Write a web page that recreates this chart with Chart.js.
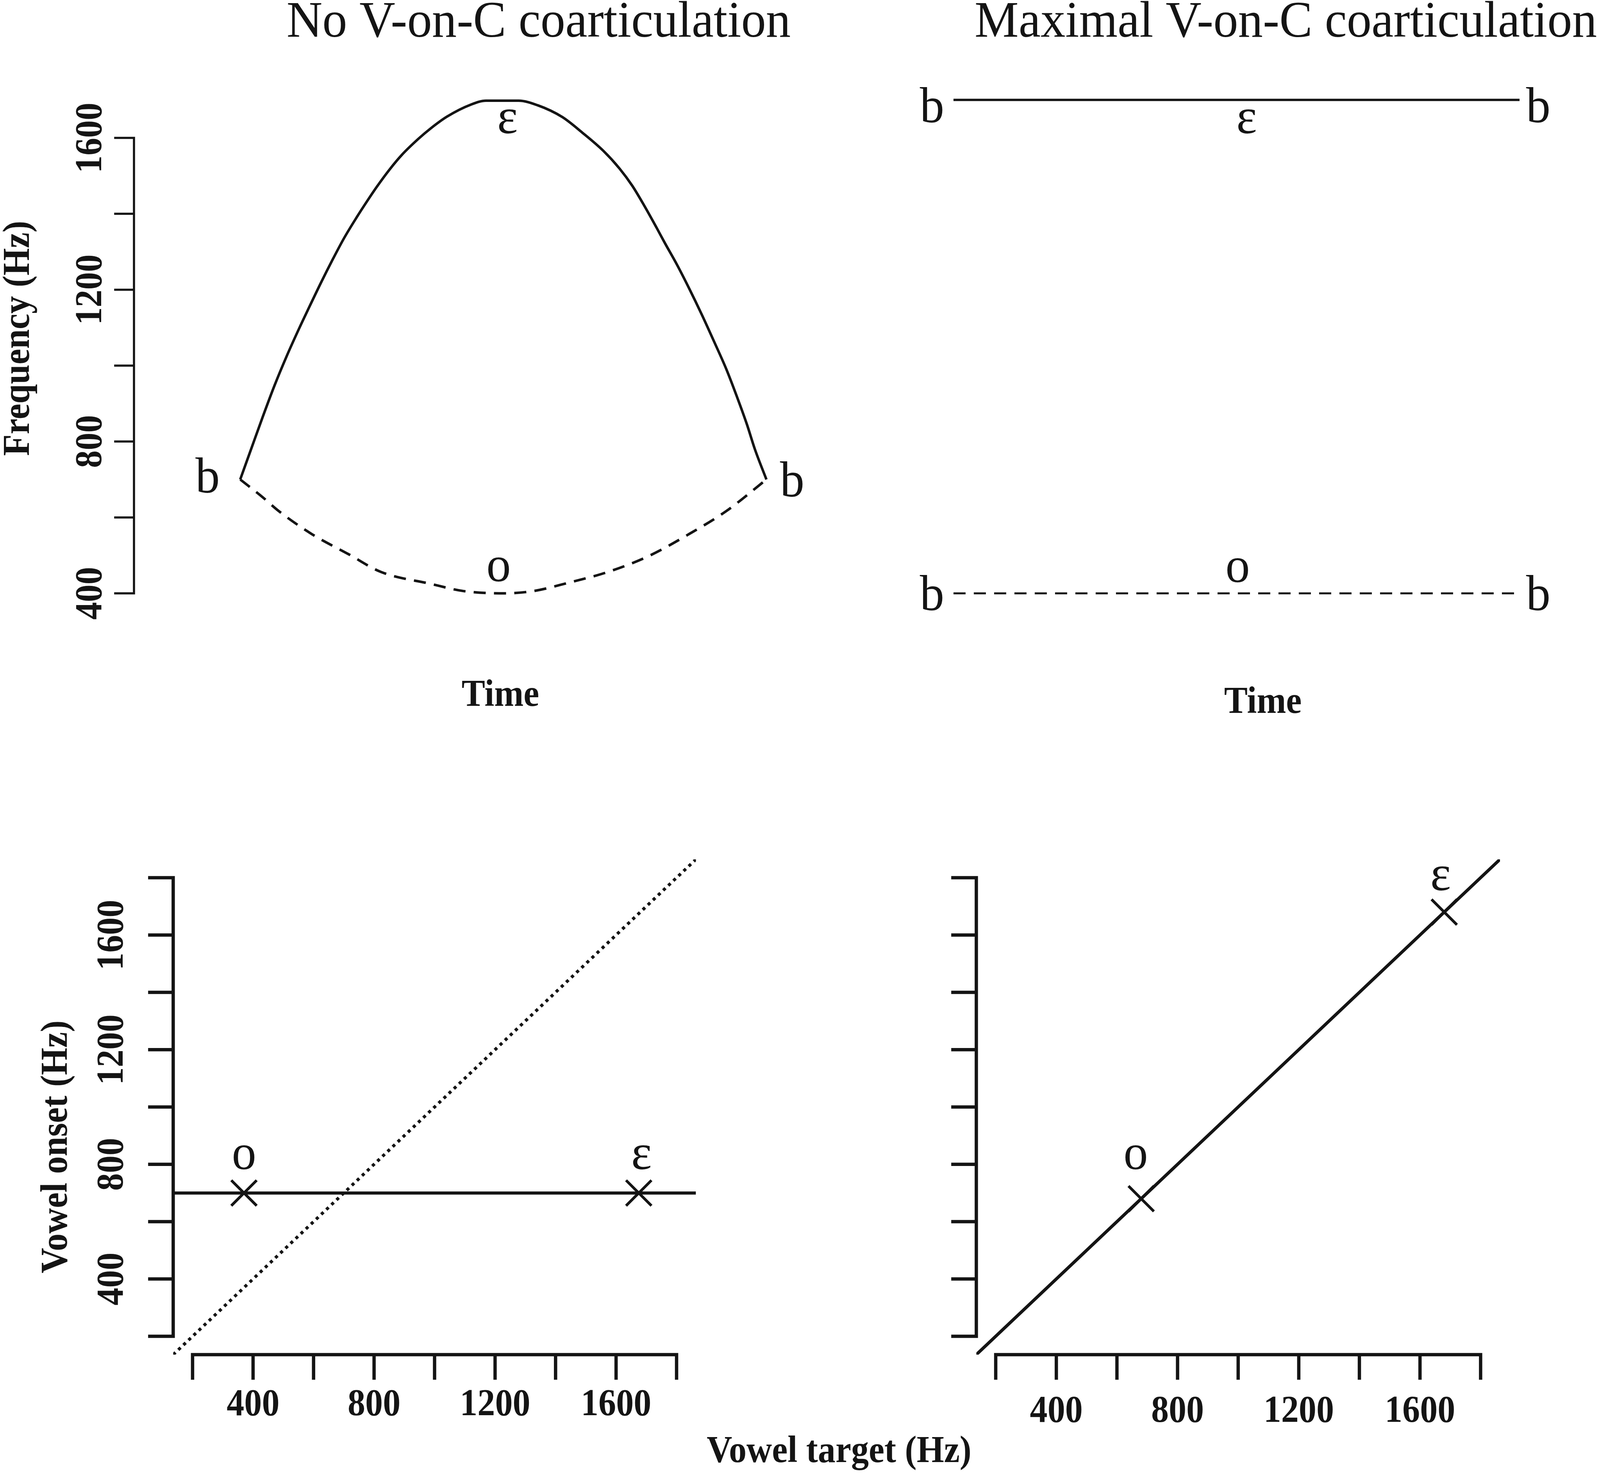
<!DOCTYPE html>
<html>
<head>
<meta charset="utf-8">
<script src="https://cdn.jsdelivr.net/npm/chart.js@4.4.1/dist/chart.umd.min.js"></script>
<style>
html,body{margin:0;padding:0;background:#fff;}
#page{position:relative;width:4098px;height:3771px;background:#fff;overflow:hidden;}
canvas{position:absolute;}
</style>
</head>
<body>
<div id="page">
<canvas id="tl" width="2250" height="1900" style="left:0px;top:0px"></canvas>
<canvas id="tr" width="1848" height="1900" style="left:2250px;top:0px"></canvas>
<canvas id="bl" width="2500" height="1871" style="left:0px;top:1900px"></canvas>
<canvas id="br" width="1748" height="1871" style="left:2350px;top:1900px"></canvas>
</div>
<script>
// ---------------- DATA ----------------
// Top-left: formant trajectories with no V-on-C coarticulation (time in % of syllable)
const timeSolid = [0, 2.2, 4.2, 6.5, 8.8, 11.2, 12.8, 15.4, 17.4, 19.7, 22.1, 24.1, 26.0, 28.4, 30.7, 33.9, 36.2, 39.3, 43.9, 46.7, 52.9, 56.5, 61.2, 65.0, 69.0, 72.1, 74.5, 76.8, 79.1, 80.7, 83.0, 85.4, 87.7, 90.1, 92.4, 94.4, 96.3, 97.8, 100];
const freqSolid = [700, 785, 862, 947, 1024, 1098, 1145, 1220, 1275, 1335, 1390, 1433, 1472, 1517, 1555, 1598, 1625, 1656, 1688, 1698, 1698, 1686, 1655, 1614, 1566, 1519, 1474, 1421, 1364, 1323, 1266, 1201, 1135, 1062, 990, 918, 845, 780, 700];
const timeDashed = [0, 4.2, 7.3, 13.5, 20.6, 26.8, 36.2, 42.4, 50.3, 55.7, 62.7, 69.8, 77.6, 85.4, 92.4, 100];
const freqDashed = [700, 654, 617, 557, 503, 456, 425, 406, 400, 406, 429, 456, 498, 557, 617, 700];

// Top-right: maximal coarticulation (flat trajectories)
const timeFlat = [0, 100];
const freqFlatHigh = [1700, 1700];
const freqFlatLow = [400, 400];

// Bottom-left: locus equation, no coarticulation
const targetNo = [370, 1675];
const onsetNo = [700, 700];
const locusNoX = [136, 1864];
const locusNoY = [700, 700];
const identityX = [136, 1864];
const identityY = [136, 1864];

// Bottom-right: locus equation, maximal coarticulation
const targetMax = [680, 1680];
const onsetMax = [680, 1680];
const locusMaxX = [136, 1864];
const locusMaxY = [136, 1864];

// Ticks
const freqTicks = [400, 600, 800, 1000, 1200, 1400, 1600];
const freqTickLabels = [400, 800, 1200, 1600];
const hzTicks = [200, 400, 600, 800, 1000, 1200, 1400, 1600, 1800];
const hzTickLabels = [400, 800, 1200, 1600];

// Segment labels (anchored in data units, baseline position)
const tlLabelText = ['b', 'b', 'ɛ', 'o'];
const tlLabelX = [-6.2, 104.9, 50.8, 49.1];
const tlLabelY = [665, 655, 1612, 432];
const trLabelText = ['b', 'b', 'ɛ', 'b', 'b', 'o'];
const trLabelX = [-3.8, 103.3, 51.8, -3.8, 103.3, 50.2];
const trLabelY = [1641, 1641, 1612, 356, 356, 430];
const blLabelText = ['o', 'ɛ'];
const blLabelX = [370, 1684];
const blLabelY = [783, 783];
const brLabelText = ['o', 'ɛ'];
const brLabelX = [662, 1668];
const brLabelY = [783, 1756];

// ---------------- STYLE ----------------
const INK = '#141414';
const SERIF = '"Liberation Serif", "Times New Roman", "DejaVu Serif", serif';
const F_TITLE = 'normal 132px ' + SERIF;
const F_SEG = 'normal 130px ' + SERIF;
const F_BOLD = 'bold 98px ' + SERIF;
const SX_TITLE = 0.96, SX_SEG = 0.96, SX_BOLD = 0.92;

function pts(xs, ys) { return xs.map((x, i) => ({x: x, y: ys[i]})); }

function drawText(ctx, s, x, y, font, sx, rot, align) {
  ctx.save();
  ctx.translate(x, y);
  if (rot) ctx.rotate(rot);
  ctx.scale(sx || 1, 1);
  ctx.font = font;
  ctx.fillStyle = INK;
  ctx.textAlign = align || 'center';
  ctx.textBaseline = 'alphabetic';
  ctx.fillText(s, 0, 0);
  ctx.restore();
}

function makePlugin(cfg) {
  return {
    id: 'rstyle_' + cfg.name,
    afterDraw(chart) {
      const ctx = chart.ctx;
      const ca = chart.chartArea;
      (cfg.axes || []).forEach(a => {
        const sc = chart.scales[a.axis];
        ctx.save();
        ctx.strokeStyle = INK;
        ctx.lineWidth = a.lw;
        ctx.lineCap = 'square';
        ctx.beginPath();
        const p0 = sc.getPixelForValue(a.ticks[0]);
        const p1 = sc.getPixelForValue(a.ticks[a.ticks.length - 1]);
        if (a.axis === 'y') {
          const x = ca.left;
          ctx.moveTo(x, p0); ctx.lineTo(x, p1);
          a.ticks.forEach(v => { const p = sc.getPixelForValue(v); ctx.moveTo(x, p); ctx.lineTo(x - a.len, p); });
        } else {
          const y = ca.bottom;
          ctx.moveTo(p0, y); ctx.lineTo(p1, y);
          a.ticks.forEach(v => { const p = sc.getPixelForValue(v); ctx.moveTo(p, y); ctx.lineTo(p, y + a.len); });
        }
        ctx.stroke();
        ctx.restore();
        (a.labels || []).forEach(v => {
          const p = sc.getPixelForValue(v);
          if (a.axis === 'y') drawText(ctx, String(v), a.labelPos, p, F_BOLD, SX_BOLD, -Math.PI / 2);
          else drawText(ctx, String(v), p, a.labelPos, F_BOLD, SX_BOLD, 0);
        });
      });
      (cfg.dataTexts || []).forEach(t => {
        const xs = chart.scales.x, ys = chart.scales.y;
        t.text.forEach((s, i) => {
          drawText(ctx, s, xs.getPixelForValue(t.x[i]), ys.getPixelForValue(t.y[i]), F_SEG, SX_SEG, 0);
        });
      });
      (cfg.freeTexts || []).forEach(t => {
        drawText(ctx, t.s, t.x - cfg.ox, t.y - cfg.oy, t.font, t.sx, t.rot || 0, t.align || 'center');
      });
    }
  };
}

function makeChart(id, cfg, datasets, xr, yr, area, canvasW, canvasH) {
  const ctx = document.getElementById(id).getContext('2d');
  return new Chart(ctx, {
    type: 'scatter',
    data: { datasets: datasets },
    options: {
      responsive: false,
      animation: false,
      devicePixelRatio: 1,
      events: [],
      layout: { padding: {
        left: area.left - cfg.ox,
        top: area.top - cfg.oy,
        right: canvasW - (area.right - cfg.ox),
        bottom: canvasH - (area.bottom - cfg.oy)
      } },
      scales: {
        x: { type: 'linear', display: false, min: xr[0], max: xr[1] },
        y: { type: 'linear', display: false, min: yr[0], max: yr[1] }
      },
      plugins: { legend: { display: false }, tooltip: { enabled: false }, title: { display: false } }
    },
    plugins: [makePlugin(cfg)]
  });
}

function lineDS(xs, ys, width, dash, smooth) {
  return {
    data: pts(xs, ys), showLine: true, borderColor: INK, borderWidth: width,
    borderDash: dash || [], pointRadius: 0, fill: false,
    cubicInterpolationMode: smooth ? 'monotone' : 'default', tension: 0
  };
}
function markerDS(xs, ys) {
  return {
    data: pts(xs, ys), showLine: false, pointStyle: 'crossRot', pointRadius: 46,
    pointBorderWidth: 7, borderColor: INK, pointBorderColor: INK, backgroundColor: 'rgba(0,0,0,0)'
  };
}

// ---------------- TOP-LEFT ----------------
makeChart('tl', {
  name: 'tl', ox: 0, oy: 0,
  axes: [{ axis: 'y', ticks: freqTicks, labels: freqTickLabels, len: 48, lw: 5.5, labelPos: 259 }],
  dataTexts: [{ text: tlLabelText, x: tlLabelX, y: tlLabelY }],
  freeTexts: [
    { s: 'No V-on-C coarticulation', x: 1379, y: 94, font: F_TITLE, sx: SX_TITLE },
    { s: 'Frequency (Hz)', x: 74, y: 866, font: F_BOLD, sx: SX_BOLD, rot: -Math.PI / 2 },
    { s: 'Time', x: 1281, y: 1807, font: F_BOLD, sx: SX_BOLD }
  ]
}, [
  lineDS(timeSolid, freqSolid, 6.5, [], true),
  lineDS(timeDashed, freqDashed, 6.5, [31, 21], true)
], [-20.19, 120.19], [348, 1752], { left: 343, right: 2234, top: 205.3, bottom: 1569.5 }, 2250, 1900);

// ---------------- TOP-RIGHT ----------------
makeChart('tr', {
  name: 'tr', ox: 2250, oy: 0,
  axes: [],
  dataTexts: [{ text: trLabelText, x: trLabelX, y: trLabelY }],
  freeTexts: [
    { s: 'Maximal V-on-C coarticulation', x: 2495, y: 94, font: F_TITLE, sx: SX_TITLE, align: 'left' },
    { s: 'Time', x: 3233, y: 1825, font: F_BOLD, sx: SX_BOLD }
  ]
}, [
  lineDS(timeFlat, freqFlatHigh, 6, []),
  lineDS(timeFlat, freqFlatLow, 5, [31, 21])
], [-10.0, 113.8], [348, 1752], { left: 2296, right: 4090, top: 205.3, bottom: 1569.5 }, 1848, 1900);

// ---------------- BOTTOM-LEFT ----------------
makeChart('bl', {
  name: 'bl', ox: 0, oy: 1900,
  axes: [
    { axis: 'y', ticks: hzTicks, labels: hzTickLabels, len: 60, lw: 8.5, labelPos: 314 },
    { axis: 'x', ticks: hzTicks, labels: hzTickLabels, len: 60, lw: 8.5, labelPos: 3623 - 1900 }
  ],
  dataTexts: [{ text: blLabelText, x: blLabelX, y: blLabelY }],
  freeTexts: [
    { s: 'Vowel onset (Hz)', x: 171, y: 2936, font: F_BOLD, sx: SX_BOLD, rot: -Math.PI / 2 },
    { s: 'Vowel target (Hz)', x: 2148, y: 3743, font: F_BOLD, sx: SX_BOLD }
  ]
}, [
  lineDS(identityX, identityY, 8, [8, 10]),
  lineDS(locusNoX, locusNoY, 8, []),
  markerDS(targetNo, onsetNo)
], [136, 1864], [136, 1864], { left: 443.4, right: 1781.6, top: 2200, bottom: 3468 }, 2500, 1871);

// ---------------- BOTTOM-RIGHT ----------------
makeChart('br', {
  name: 'br', ox: 2350, oy: 1900,
  axes: [
    { axis: 'y', ticks: hzTicks, labels: [], len: 60, lw: 8.5, labelPos: 0 },
    { axis: 'x', ticks: hzTicks, labels: hzTickLabels, len: 60, lw: 8.5, labelPos: 3640 - 1900 }
  ],
  dataTexts: [{ text: brLabelText, x: brLabelX, y: brLabelY }],
  freeTexts: []
}, [
  lineDS(locusMaxX, locusMaxY, 8, []),
  markerDS(targetMax, onsetMax)
], [136, 1864], [136, 1864], { left: 2499.4, right: 3840, top: 2200, bottom: 3468 }, 1748, 1871);
</script>
</body>
</html>
